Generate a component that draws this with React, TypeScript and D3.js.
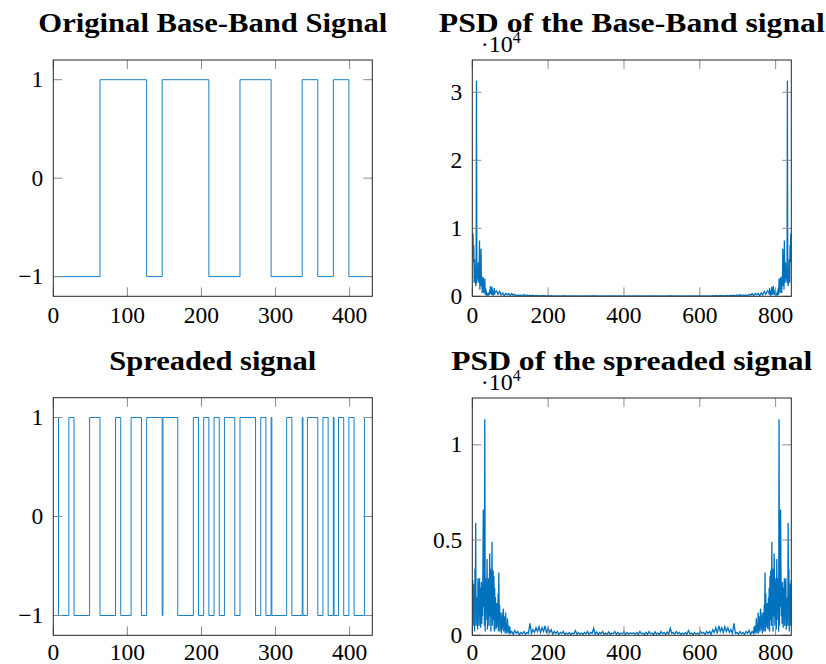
import React from "react";
import * as d3 from "d3";

// ---------------- data ----------------
// Base-band signal: switching instants (sample index), first level is -1, then alternating
const baseEdges = [0, 63, 126, 147, 210, 252, 294, 336, 357, 378, 399, 430];
const baseStart = -1;

// Spreaded signal: switching instants, first level is +1, then alternating
const spreadEdges = [
  0, 7, 21, 28, 49, 63, 84, 91, 105, 119, 126, 147, 148, 168, 189, 196, 203, 210,
  217, 224, 231, 245, 252, 273, 280, 287, 294, 295, 315, 322, 336, 337, 343, 357,
  364, 371, 378, 379, 385, 392, 399, 406, 420, 430,
];
const spreadStart = 1;

// PSD of base-band signal (x 1e4), bins 1..60 (step 1)
const psdBaseHead = [
  0.93, 0.9, 0.5, 0.75, 0.2, 0.55, 0.25, 0.3, 0.15, 0.2,
  3.17, 0.2, 0.45, 0.3, 0.25, 0.5, 0.2, 0.4, 0.82, 0.1,
  0.35, 0.15, 0.7, 0.2, 0.3, 0.05, 0.25, 0.1, 0.28, 0.05,
  0.2, 0.1, 0.26, 0.02, 0.12, 0.05, 0.08, 0.01, 0.05, 0.02,
  0.04, 0.01, 0.03, 0.06, 0.02, 0.1, 0.03, 0.15, 0.05, 0.12,
  0.02, 0.14, 0.04, 0.08, 0.01, 0.09, 0.02, 0.12, 0.03, 0.06,
];
// bins 64..420 (step 4)
const psdBaseTail = [
  0.08, 0.03, 0.07, 0.02, 0.05, 0.01, 0.045, 0.02, 0.04, 0.01,
  0.04, 0.015, 0.03, 0.005, 0.02, 0.01, 0.02, 0.005, 0.025, 0.01,
  0.02, 0.005, 0.015, 0.008, 0.015, 0.004, 0.012, 0.006, 0.01, 0.003,
  0.012, 0.005, 0.01, 0.003, 0.012, 0.004, 0.008, 0.002, 0.006, 0.003,
  0.007, 0.002, 0.006, 0.003, 0.008, 0.002, 0.005, 0.003, 0.006, 0.001,
  0.006, 0.002, 0.007, 0.003, 0.005, 0.002, 0.006, 0.002, 0.007, 0.001,
  0.005, 0.003, 0.006, 0.002, 0.008, 0.002, 0.005, 0.003, 0.006, 0.001,
  0.007, 0.002, 0.006, 0.003, 0.005, 0.002, 0.006, 0.002, 0.007, 0.001,
  0.005, 0.002, 0.006, 0.003, 0.007, 0.002, 0.005, 0.003, 0.006, 0.002,
];

// PSD of spreaded signal (x 1e4), bins 1..100 (step 1)
const psdSpreadHead = [
  0.29, 0.05, 0.27, 0.1, 0.2, 0.02, 0.35, 0.15, 0.59, 0.05,
  0.2, 0.08, 0.15, 0.03, 0.3, 0.1, 0.28, 0.05, 0.3, 0.12,
  0.25, 0.04, 0.18, 0.28, 0.06, 0.22, 0.1, 0.35, 0.66, 0.15,
  0.4, 0.05, 1.135, 0.02, 0.25, 0.08, 0.3, 0.12, 0.4, 0.03,
  0.2, 0.1, 0.3, 0.05, 0.25, 0.43, 0.1, 0.35, 0.02, 0.3,
  0.15, 0.49, 0.05, 0.2, 0.34, 0.08, 0.31, 0.02, 0.25, 0.1,
  0.2, 0.03, 0.12, 0.17, 0.04, 0.15, 0.06, 0.22, 0.02, 0.33,
  0.08, 0.16, 0.02, 0.1, 0.05, 0.12, 0.01, 0.08, 0.03, 0.1,
  0.12, 0.14, 0.02, 0.08, 0.04, 0.1, 0.01, 0.12, 0.03, 0.06,
  0.01, 0.05, 0.09, 0.02, 0.04, 0.01, 0.05, 0.02, 0.045, 0.01,
];
// bins 104..420 (step 4)
const psdSpreadTail = [
  0.02, 0.005, 0.025, 0.01, 0.02, 0.004, 0.015, 0.008, 0.02, 0.005,
  0.015, 0.01, 0.063, 0.01, 0.03, 0.015, 0.04, 0.02, 0.045, 0.015,
  0.04, 0.02, 0.05, 0.01, 0.04, 0.015, 0.03, 0.005, 0.02, 0.01,
  0.02, 0.004, 0.015, 0.01, 0.02, 0.005, 0.012, 0.006, 0.015, 0.003,
  0.012, 0.008, 0.025, 0.005, 0.015, 0.006, 0.012, 0.004, 0.015, 0.008,
  0.02, 0.005, 0.015, 0.01, 0.037, 0.006, 0.018, 0.004, 0.015, 0.008,
  0.02, 0.005, 0.012, 0.006, 0.018, 0.003, 0.012, 0.008, 0.02, 0.005,
  0.015, 0.004, 0.012, 0.008, 0.02, 0.005, 0.015, 0.006, 0.012, 0.01,
];

const timeXTicks = [0, 100, 200, 300, 400];
const timeYTicks = [-1, 0, 1];
const psdXTicks = [0, 200, 400, 600, 800];
const psdBaseYTicks = [0, 1, 2, 3];
const psdSpreadYTicks = [0, 0.5, 1];

// ---------------- helpers ----------------
type Pt = [number, number];

function stepPoints(edges: number[], start: number): Pt[] {
  const pts: Pt[] = [];
  let lvl = start;
  for (let i = 0; i < edges.length - 1; i++) {
    pts.push([edges[i], lvl]);
    lvl = -lvl;
  }
  pts.push([edges[edges.length - 1], -lvl]);
  return pts;
}

function psdPoints(head: number[], tailStart: number, tail: number[], mirrorSum: number): Pt[] {
  const half: Pt[] = [];
  head.forEach((v, i) => half.push([i + 1, v]));
  tail.forEach((v, i) => half.push([tailStart + 4 * i, v]));
  const mirrored: Pt[] = half
    .slice()
    .reverse()
    .map((p) => [mirrorSum - p[0], p[1]] as Pt);
  return half.concat(mirrored);
}

const BLUE = "#0072BD";
const TICK = "#8c8c8c";
const BOX = "#262626";
const SERIF = "'Liberation Serif', 'Times New Roman', serif";

type PanelProps = {
  id: string;
  left: number;
  top: number;
  right: number;
  bottom: number;
  xDomain: [number, number];
  yDomain: [number, number];
  xTicks: number[];
  yTicks: number[];
  yFmt: (v: number) => string;
  data: Pt[];
  step: boolean;
  lineW: number;
  title: string;
  titleY: number;
  titleLen: number;
  xLabelGap: number;
  exp?: boolean;
};

function Panel(p: PanelProps) {
  const x = d3.scaleLinear().domain(p.xDomain).range([p.left, p.right]);
  const y = d3.scaleLinear().domain(p.yDomain).range([p.bottom, p.top]);
  const line = d3
    .line<Pt>()
    .x((d) => x(d[0]))
    .y((d) => y(d[1]))
    .curve(p.step ? d3.curveStepAfter : d3.curveLinear);
  const tl = 9;
  const cx = (p.left + p.right) / 2;
  return (
    <g>
      <defs>
        <clipPath id={p.id}>
          <rect x={p.left} y={p.top} width={p.right - p.left} height={p.bottom - p.top} />
        </clipPath>
      </defs>
      <text
        x={cx}
        y={p.titleY}
        textAnchor="middle"
        fontFamily={SERIF}
        fontWeight="bold"
        fontSize={26.5}
        textLength={p.titleLen}
        lengthAdjust="spacingAndGlyphs"
        fill="#000"
      >
        {p.title}
      </text>
      <path
        d={line(p.data) || ""}
        fill="none"
        stroke={BLUE}
        strokeWidth={p.lineW}
        strokeLinejoin="miter"
        clipPath={`url(#${p.id})`}
      />
      {p.xTicks.map((t) => (
        <g key={"xt" + t}>
          <line x1={x(t)} x2={x(t)} y1={p.bottom} y2={p.bottom - tl} stroke={TICK} strokeWidth={1} />
          <line x1={x(t)} x2={x(t)} y1={p.top} y2={p.top + tl} stroke={TICK} strokeWidth={1} />
          <text x={x(t)} y={p.bottom + p.xLabelGap} textAnchor="middle" fontFamily={SERIF} fontSize={23.5} fill="#000">
            {String(t)}
          </text>
        </g>
      ))}
      {p.yTicks.map((t) => (
        <g key={"yt" + t}>
          <line x1={p.left} x2={p.left + tl} y1={y(t)} y2={y(t)} stroke={TICK} strokeWidth={1} />
          <line x1={p.right} x2={p.right - tl} y1={y(t)} y2={y(t)} stroke={TICK} strokeWidth={1} />
          <text x={p.left - 10} y={y(t) + 7.6} textAnchor="end" fontFamily={SERIF} fontSize={23.5} fill="#000">
            {p.yFmt(t)}
          </text>
        </g>
      ))}
      <rect
        x={p.left}
        y={p.top}
        width={p.right - p.left}
        height={p.bottom - p.top}
        fill="none"
        stroke={BOX}
        strokeWidth={1}
      />
      {p.exp && (
        <text x={p.left + 8.5} y={p.top - 8.3} fontFamily={SERIF} fontSize={24} fill="#000">
          {"·10"}
          <tspan fontSize={16} dy={-9}>
            4
          </tspan>
        </text>
      )}
    </g>
  );
}

const fmtTime = (v: number) => (v < 0 ? "\u2212" + Math.abs(v) : String(v));
const fmtPsd = (v: number) => String(v);

export default function App() {
  const baseData = stepPoints(baseEdges, baseStart);
  const spreadData = stepPoints(spreadEdges, spreadStart);
  const psdBase = psdPoints(psdBaseHead, 64, psdBaseTail, 842);
  const psdSpread = psdPoints(psdSpreadHead, 104, psdSpreadTail, 842);
  return (
    <svg
      width={826}
      height={664}
      style={{ position: "absolute", left: 0, top: 0, background: "#fff" }}
    >
      <rect x={0} y={0} width={826} height={664} fill="#fff" />
      <Panel
        id="c1"
        left={53.3}
        top={60}
        right={372.3}
        bottom={296.3}
        xDomain={[0, 430.6]}
        yDomain={[-1.2, 1.2]}
        xTicks={timeXTicks}
        yTicks={timeYTicks}
        yFmt={fmtTime}
        data={baseData}
        step={true}
        lineW={0.9}
        title="Original Base-Band Signal"
        titleY={31.5}
        titleLen={349}
        xLabelGap={27}
      />
      <Panel
        id="c2"
        left={472.3}
        top={60}
        right={791.3}
        bottom={296.3}
        xDomain={[0, 841.3]}
        yDomain={[0, 3.475]}
        xTicks={psdXTicks}
        yTicks={psdBaseYTicks}
        yFmt={fmtPsd}
        data={psdBase}
        step={false}
        lineW={1.3}
        title="PSD of the Base-Band signal"
        titleY={31.5}
        titleLen={386}
        xLabelGap={27}
        exp={true}
      />
      <Panel
        id="c3"
        left={53.3}
        top={397.7}
        right={372.3}
        bottom={635.3}
        xDomain={[0, 430.6]}
        yDomain={[-1.2, 1.2]}
        xTicks={timeXTicks}
        yTicks={timeYTicks}
        yFmt={fmtTime}
        data={spreadData}
        step={true}
        lineW={0.9}
        title="Spreaded signal"
        titleY={369.5}
        titleLen={207}
        xLabelGap={25}
      />
      <Panel
        id="c4"
        left={472.3}
        top={398}
        right={791.3}
        bottom={635.3}
        xDomain={[0, 841.3]}
        yDomain={[0, 1.246]}
        xTicks={psdXTicks}
        yTicks={psdSpreadYTicks}
        yFmt={fmtPsd}
        data={psdSpread}
        step={false}
        lineW={1.3}
        title="PSD of the spreaded signal"
        titleY={369.5}
        titleLen={361}
        xLabelGap={25}
        exp={true}
      />
    </svg>
  );
}
